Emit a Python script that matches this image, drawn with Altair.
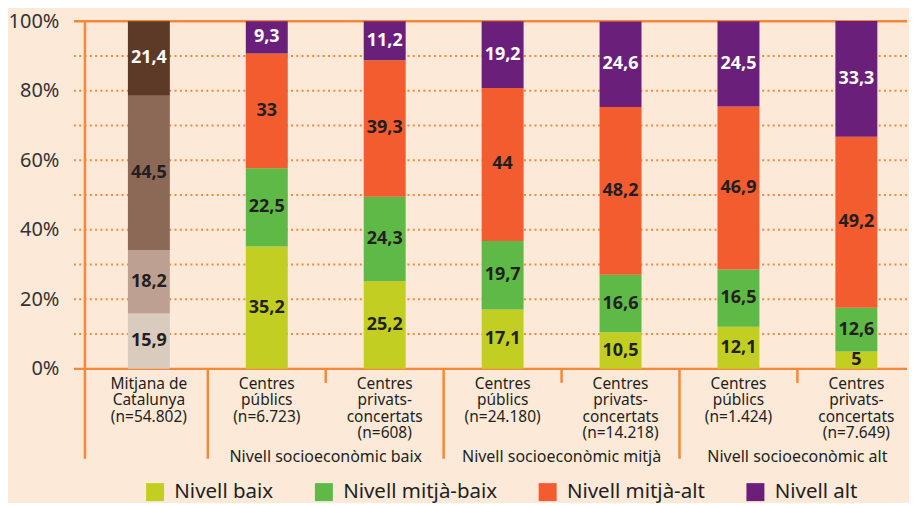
import altair as alt
import pandas as pd

# ---- data ----
levels = ["Nivell baix", "Nivell mitjà-baix", "Nivell mitjà-alt", "Nivell alt"]
cat_labels = [
    "Mitjana de\nCatalunya\n(n=54.802)",
    "Centres\npúblics\n(n=6.723)",
    "Centres\nprivats-\nconcertats\n(n=608)",
    "Centres\npúblics\n(n=24.180)",
    "Centres\nprivats-\nconcertats\n(n=14.218)",
    "Centres\npúblics\n(n=1.424)",
    "Centres\nprivats-\nconcertats\n(n=7.649)",
]
values = [
    [15.9, 18.2, 44.5, 21.4],
    [35.2, 22.5, 33.0, 9.3],
    [25.2, 24.3, 39.3, 11.2],
    [17.1, 19.7, 44.0, 19.2],
    [10.5, 16.6, 48.2, 24.6],
    [12.1, 16.5, 46.9, 24.5],
    [5.0, 12.6, 49.2, 33.3],
]
value_labels = [
    ["15,9", "18,2", "44,5", "21,4"],
    ["35,2", "22,5", "33", "9,3"],
    ["25,2", "24,3", "39,3", "11,2"],
    ["17,1", "19,7", "44", "19,2"],
    ["10,5", "16,6", "48,2", "24,6"],
    ["12,1", "16,5", "46,9", "24,5"],
    ["5", "12,6", "49,2", "33,3"],
]
group_names = ["Nivell socioeconòmic baix", "Nivell socioeconòmic mitjà", "Nivell socioeconòmic alt"]
group_centers = [2, 4, 6]
grid_values = [10, 20, 30, 40, 50, 60, 70, 80, 90]
y_ticks = [0, 20, 40, 60, 80, 100]

mitjana_colors = ["#dacbbf", "#bda091", "#8b6956", "#5d3a28"]
level_colors = ["#c2cf22", "#5fb946", "#f25c2f", "#6a207b"]
ORANGE = "#f5893a"
BG = "#fde9d8"
TXT = "#231f20"
FONT = "Noto Sans"

# ---- build tables ----
rows = []
for i, vals in enumerate(values):
    start = 0.0
    for j, v in enumerate(vals):
        end = start + v
        white = (j == 3)
        rows.append(dict(
            pos=i, center=i + 0.5, level=levels[j], start=start, end=end,
            mid=(start + end) / 2, label=value_labels[i][j],
            hex=mitjana_colors[j] if i == 0 else level_colors[j],
            tcol="#ffffff" if white else TXT,
        ))
        start = end
df = pd.DataFrame(rows)

cats = pd.DataFrame({"center": [i + 0.5 for i in range(len(cat_labels))], "lab": cat_labels})
groups = pd.DataFrame({"center": group_centers, "g": group_names})
grid = pd.DataFrame({"v": grid_values})
hlines = pd.DataFrame({"v": [0, 100]})
long_sep = pd.DataFrame({"b": [1, 3, 5]})
short_sep = pd.DataFrame({"b": [2, 4, 6]})

W = 823
H = 348
STEP = 119.5
xscale = alt.Scale(domain=[0, W / STEP], nice=False, zero=False)
yscale = alt.Scale(domain=[0, 100], nice=False)

base = alt.Chart(df)

gridlayer = alt.Chart(grid).mark_rule(color=ORANGE, strokeWidth=2, strokeDash=[2, 3.3]).encode(
    y=alt.Y("v:Q", scale=yscale, axis=alt.Axis(
        values=y_ticks, labelExpr="datum.value + '%'", domain=False, ticks=False,
        grid=False, labelFontSize=20, labelFont=FONT, labelColor="#333333",
        labelPadding=26, title=None)),
    x=alt.value(-11), x2=alt.value(W),
)

hlayer = alt.Chart(hlines).mark_rule(color=ORANGE, strokeWidth=2.5).encode(
    y=alt.Y("v:Q", scale=yscale), x=alt.value(-11), x2=alt.value(W),
)

mit = base.transform_filter("datum.pos == 0").mark_bar(width=42).encode(
    x=alt.X("center:Q", scale=xscale, axis=None),
    y=alt.Y("start:Q", scale=yscale), y2="end:Q",
    fill=alt.Fill("hex:N", scale=None),
)

lev = base.transform_filter("datum.pos > 0").mark_bar(width=42, opacity=1).encode(
    x=alt.X("center:Q", scale=xscale, axis=None),
    y=alt.Y("start:Q", scale=yscale), y2="end:Q",
    color=alt.Color("level:N", scale=alt.Scale(domain=levels, range=level_colors),
                    legend=alt.Legend(
                        orient="none", legendX=60, legendY=461, direction="horizontal",
                        title=None, symbolType="square", symbolSize=324, symbolStrokeWidth=0,
                        symbolOpacity=1, labelFontSize=20.5, labelFont=FONT, labelColor=TXT,
                        labelOffset=9, columnPadding=40, labelLimit=300)),
)

txt = base.mark_text(fontSize=18, fontWeight="bold", font=FONT).encode(
    x=alt.X("center:Q", scale=xscale), y=alt.Y("mid:Q", scale=yscale),
    text="label:N", fill=alt.Fill("tcol:N", scale=None),
)

axisline = alt.Chart(hlines.head(1)).mark_rule(color=ORANGE, strokeWidth=2.5).encode(
    x=alt.value(0), y=alt.value(0), y2=alt.value(438),
)
lsep = alt.Chart(long_sep).mark_rule(color=ORANGE, strokeWidth=2.5).encode(
    x=alt.X("b:Q", scale=xscale), y=alt.value(H), y2=alt.value(438),
)
ssep = alt.Chart(short_sep).mark_rule(color=ORANGE, strokeWidth=2.5).encode(
    x=alt.X("b:Q", scale=xscale), y=alt.value(H), y2=alt.value(362),
)

catlab = alt.Chart(cats).mark_text(
    fontSize=15.5, font=FONT, color=TXT, baseline="top", lineBreak="\n", lineHeight=16.5
).encode(x=alt.X("center:Q", scale=xscale), y=alt.value(356), text="lab:N")

grplab = alt.Chart(groups).mark_text(
    fontSize=16, font=FONT, color=TXT, baseline="middle"
).encode(x=alt.X("center:Q", scale=xscale), y=alt.value(436), text="g:N")

chart = alt.layer(
    gridlayer, hlayer, mit, lev, txt, axisline, lsep, ssep, catlab, grplab
).properties(
    width=W, height=H, background=BG,
    padding={"left": 0, "top": 3, "right": 0, "bottom": 0},
).configure_view(stroke=None)

chart.save("out.html", embed_options={"renderer": "svg", "actions": False})
